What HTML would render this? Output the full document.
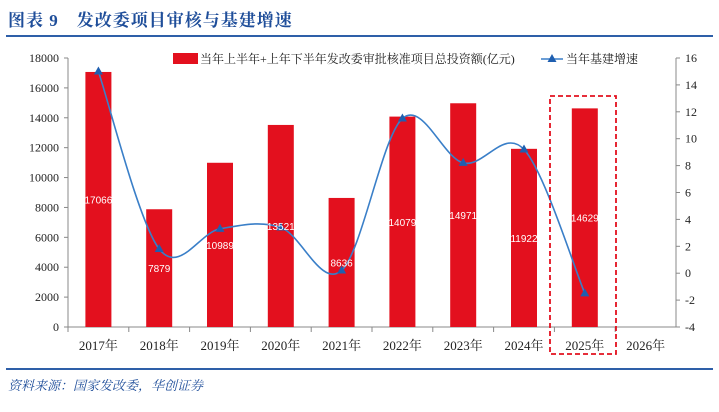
<!DOCTYPE html>
<html><head><meta charset="utf-8"><style>
body{margin:0;background:#fff;width:719px;height:412px;overflow:hidden;font-family:"Liberation Serif","Noto Serif CJK SC",serif}
#title{position:absolute;left:8px;top:6px;font-size:17px;font-weight:bold;color:#1f4e9a;font-family:"Liberation Serif","Noto Serif CJK SC",serif;letter-spacing:1px}
#src{position:absolute;left:8px;top:375px;font-size:13px;font-style:italic;color:#1f4e9a;font-family:"Liberation Serif","Noto Serif CJK SC",serif}
</style></head><body>
<div id="title">图表 9　发改委项目审核与基建增速</div>
<svg width="719" height="412" style="position:absolute;left:0;top:0">
<line x1="6" y1="36" x2="713" y2="36" stroke="#2e5fa8" stroke-width="2"/>
<line x1="6" y1="369" x2="713" y2="369" stroke="#2e5fa8" stroke-width="2"/>
<g id="g"></g>
</svg>
<div id="src">资料来源：国家发改委，华创证券</div>
<script>
const categories=["2017年","2018年","2019年","2020年","2021年","2022年","2023年","2024年","2025年","2026年"];
const approvals=[17066,7879,10989,13521,8636,14079,14971,11922,14629];
const growth=[15.0,1.8,3.3,3.4,0.2,11.5,8.2,9.2,-1.5];
const leftTicks=[0,2000,4000,6000,8000,10000,12000,14000,16000,18000];
const rightTicks=[-4,-2,0,2,4,6,8,10,12,14,16];
const L=68,R=676,T=58,B=327;
const bw=(R-L)/categories.length;
const xc=i=>L+bw*(i+0.5);
const yL=v=>B-(v/18000)*(B-T);
const yR=v=>B-((v+4)/20)*(B-T);
const g=document.getElementById('g');const NS="http://www.w3.org/2000/svg";
function mk(t,a,txt){const e=document.createElementNS(NS,t);for(const k in a)e.setAttribute(k,a[k]);if(txt!=null)e.textContent=txt;g.appendChild(e);return e;}
let e;
e=mk('line',{x1:L,y1:T,x2:L,y2:B,stroke:'#888'});


e=mk('line',{x1:R,y1:T,x2:R,y2:B,stroke:'#888'});


e=mk('line',{x1:L,y1:B,x2:R,y2:B,stroke:'#888'});


leftTicks.forEach(v=>{mk('line',{x1:L-4,y1:yL(v),x2:L,y2:yL(v),stroke:'#888'});
e=mk('text',{x:L-9,y:yL(v)+4,'text-anchor':'end','font-size':12,fill:'#222'},v);

});
rightTicks.forEach(v=>{mk('line',{x1:R,y1:yR(v),x2:R+4,y2:yR(v),stroke:'#888'});
e=mk('text',{x:R+9,y:yR(v)+4,'font-size':12,fill:'#222'},v);

});
categories.forEach((c,i)=>{mk('line',{x1:L+bw*i,y1:B,x2:L+bw*i,y2:B+5,stroke:'#888'});
e=mk('text',{x:xc(i),y:350,'text-anchor':'middle','font-size':13,fill:'#222'},c);

});
approvals.forEach((v,i)=>{
e=mk('rect',{x:xc(i)-13,y:yL(v),width:26,height:B-yL(v),fill:'#e3101e'});

});
const P=growth.map((v,i)=>[xc(i),yR(v)]);
let d='M'+P[0][0]+','+P[0][1];
for(let i=0;i<P.length-1;i++){const p0=P[Math.max(0,i-1)],p1=P[i],p2=P[i+1],p3=P[Math.min(P.length-1,i+2)];
const c1=[p1[0]+(p2[0]-p0[0])/6,p1[1]+(p2[1]-p0[1])/6],c2=[p2[0]-(p3[0]-p1[0])/6,p2[1]-(p3[1]-p1[1])/6];
d+=` C${c1[0]},${c1[1]} ${c2[0]},${c2[1]} ${p2[0]},${p2[1]}`;}
e=mk('path',{d:d,fill:'none',stroke:'#3a7fc8','stroke-width':1.6});


P.forEach(p=>{e=mk('path',{d:`M${p[0]},${p[1]-5} L${p[0]+4.5},${p[1]+3} L${p[0]-4.5},${p[1]+3}Z`,fill:'#1f5fb0'});

});
approvals.forEach((v,i)=>{e=mk('text',{x:xc(i),y:(yL(v)+B)/2+4,'text-anchor':'middle','font-size':10,fill:'#fff','font-family':'Liberation Sans,sans-serif'},v);

});
e=mk('rect',{x:550,y:96,width:66,height:258,fill:'none',stroke:'#e3101e','stroke-width':1.8,'stroke-dasharray':'5,3'});


e=mk('rect',{x:173,y:53,width:25,height:11,fill:'#e3101e'});


e=mk('text',{x:200,y:63,'font-size':12,fill:'#222'},'当年上半年+上年下半年发改委审批核准项目总投资额(亿元)');


e=mk('line',{x1:541,y1:59,x2:563,y2:59,stroke:'#3a7fc8','stroke-width':1.6});


mk('path',{d:'M552,54 L556.5,62 L547.5,62Z',fill:'#1f5fb0'});
e=mk('text',{x:566,y:63,'font-size':12,fill:'#222'},'当年基建增速');


</script>
</body></html>
